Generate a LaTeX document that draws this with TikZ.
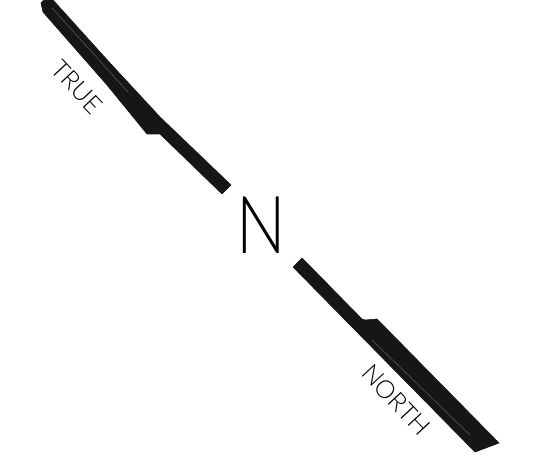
\documentclass[tikz,border=0pt]{standalone}
\usepackage{fontspec}
\setmainfont{Lato Light}
\usepackage{tikz}
\definecolor{bladeink}{RGB}{22,22,22}
\definecolor{bladeglint}{RGB}{95,95,95}
\tikzset{
  blade/.style={fill=bladeink, draw=bladeink, line width=0.6pt, line join=round},
  glint/.style={line width=0.5pt, bladeglint, line cap=round},
  dirlabel/.style={font=\fontsize{25}{25}\selectfont, text=black, inner sep=0pt, rotate=-47},
  bigletter/.style={font=\fontsize{80}{80}\selectfont, text=black, inner sep=0pt, xscale=0.82},
}
\begin{document}
\begin{tikzpicture}[x=1pt,y=-1pt]
  \useasboundingbox (0,0) rectangle (553,462);
  % upper blade
  \fill[blade] (41,3) to[out=70,in=180] (47,0) -- (53,0) -- (110,63) -- (160,117) -- (231,185)
    -- (222,194) -- (160,134) -- (147,134) -- (107,85) -- (43,12) -- cycle;
  \draw[glint] (52,8) -- (128,92);
  % lower blade
  \fill[blade] (302,258) -- (293,267) -- (475,452) -- (499,443) -- (377,319) -- (365,320) -- (362,319) -- cycle;
  \draw[glint] (372,340) -- (470,435);
  % labels
  \node[bigletter] (nmark) at (261,225) {N};
  \node[dirlabel] (truelabel) at (77,87) {TRUE};
  \node[dirlabel] (northlabel) at (396,400) {NORTH};
\end{tikzpicture}
\end{document}
